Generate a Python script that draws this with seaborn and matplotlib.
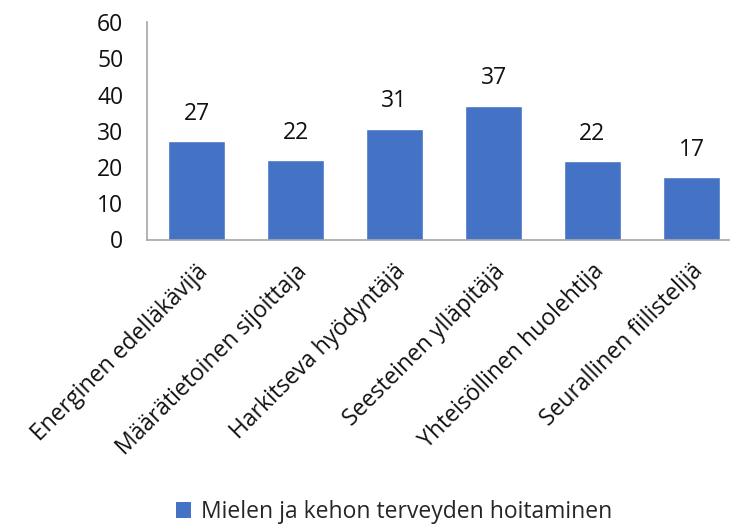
import numpy as np
import pandas as pd
import matplotlib
matplotlib.use("Agg")
import matplotlib.pyplot as plt
import matplotlib.transforms as mtransforms
from matplotlib.patches import Patch
import seaborn as sns

# ── data ──────────────────────────────────────────────────────────────────────
categories = ["Energinen edelläkävijä", "Määrätietoinen sijoittaja",
              "Harkitseva hyödyntäjä", "Seesteinen ylläpitäjä",
              "Yhteisöllinen huolehtija", "Seurallinen fiilistelijä"]
values = [27.1, 21.8, 30.6, 36.9, 21.6, 17.2]
series_name = "Mielen ja kehon terveyden hoitaminen"
y_ticks = [0, 10, 20, 30, 40, 50, 60]

BAR_COLOR = "#4472C4"
AXIS_COLOR = "#A6A6A6"
TEXT_COLOR = "#111111"
FS = 16.5

sns.set_style("white")
plt.rcParams["font.family"] = ["Open Sans", "DejaVu Sans"]

df = pd.DataFrame({"category": categories, "value": values})

fig = plt.figure(figsize=(7.3, 5.24), dpi=100)
ax = fig.add_axes([147 / 730, (524 - 239.5) / 524, 594 / 730, 217.5 / 524])

sns.barplot(data=df, x="category", y="value", color=BAR_COLOR,
            width=0.57, saturation=1, ax=ax)

ax.bar_label(ax.containers[0], fmt="%.0f", padding=11, fontsize=FS,
             color=TEXT_COLOR)

ax.set_xlim(-0.5, len(categories) - 0.5)
ax.set_ylim(0, 60)
ax.set_yticks(y_ticks)
ax.set_yticklabels([str(t) for t in y_ticks], fontsize=FS, color=TEXT_COLOR)
ax.tick_params(axis="y", length=0, pad=17)
ax.tick_params(axis="x", length=0, pad=4)
ax.set_xlabel("")
ax.set_ylabel("")

offset = mtransforms.ScaledTranslation(8 / 100, -23 / 100, fig.dpi_scale_trans)
for lbl in ax.get_xticklabels():
    lbl.set_rotation(45)
    lbl.set_ha("right")
    lbl.set_va("center")
    lbl.set_rotation_mode("anchor")
    lbl.set_fontsize(FS)
    lbl.set_color(TEXT_COLOR)
    lbl.set_transform(lbl.get_transform() + offset)

for side in ["top", "right"]:
    ax.spines[side].set_visible(False)
for side in ["left", "bottom"]:
    ax.spines[side].set_color(AXIS_COLOR)
    ax.spines[side].set_linewidth(1.2)

handles = [Patch(facecolor=BAR_COLOR, edgecolor="none", label=series_name)]
fig.legend(handles=handles, loc="center", bbox_to_anchor=(0.540, 1 - 512 / 524),
           frameon=False, fontsize=FS, handlelength=0.65, handleheight=0.65,
           handletextpad=0.45)

fig.savefig("out.png", dpi=100)
